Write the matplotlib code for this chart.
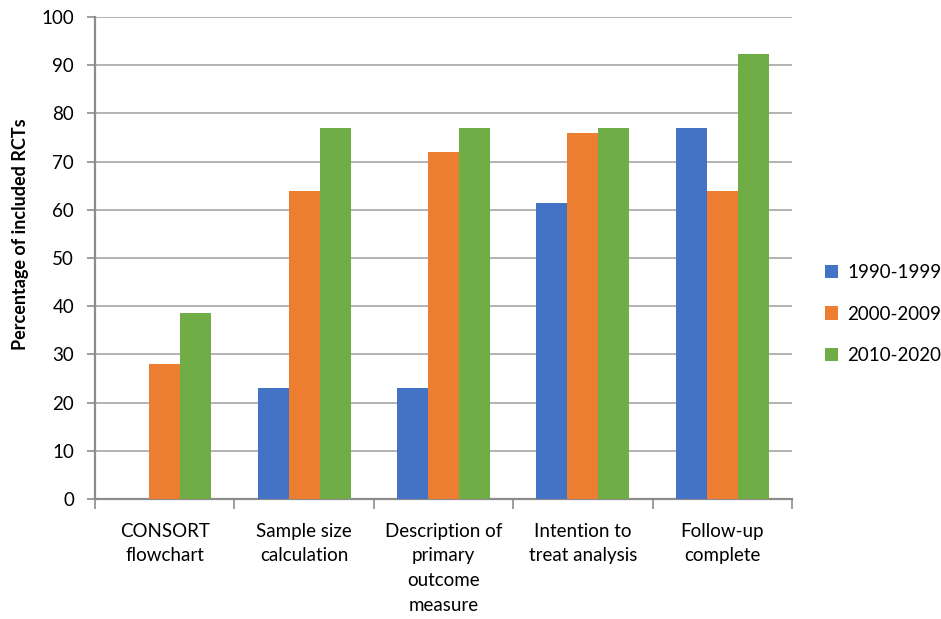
import matplotlib
matplotlib.use("Agg")
import matplotlib.pyplot as plt
import numpy as np

categories = ["CONSORT\nflowchart", "Sample size\ncalculation",
              "Description of\nprimary\noutcome\nmeasure",
              "Intention to\ntreat analysis", "Follow-up\ncomplete"]
series_names = ["1990-1999", "2000-2009", "2010-2020"]
s1990 = [0, 23.1, 23.1, 61.5, 76.9]
s2000 = [28, 64, 72, 76, 64]
s2010 = [38.5, 76.9, 76.9, 76.9, 92.3]
colors = ["#4472C4", "#ED7D31", "#70AD47"]
yticks = [0, 10, 20, 30, 40, 50, 60, 70, 80, 90, 100]

plt.rcParams['font.family'] = ['Lato', 'DejaVu Sans']

fig = plt.figure(figsize=(9.41, 6.19), dpi=100)
ax = fig.add_axes([95/941, 1-499/619, (792-95)/941, (499-17)/619])

x = np.arange(len(categories))
w = 0.222
for i, (vals, name, c) in enumerate(zip([s1990, s2000, s2010], series_names, colors)):
    ax.bar(x + (i-1)*w, vals, width=w, color=c, label=name, zorder=3)

ax.set_xlim(-0.5, len(categories)-0.5)
ax.set_ylim(0, 100)
ax.set_yticks(yticks)
ax.grid(axis='y', color='#a6a6a6', linewidth=1.2, zorder=0)

ax.set_xticks(np.arange(len(categories)+1)-0.5)
ax.set_xticklabels([])
ax.set_xticks(x, minor=True)
ax.set_xticklabels(categories, minor=True, fontsize=13.5, linespacing=1.55, va='top')
ax.tick_params(axis='x', which='minor', length=0, pad=17)
ax.tick_params(axis='x', which='major', length=7, color='#8c8c8c', width=1.2)
ax.tick_params(axis='y', length=6, color='#8c8c8c', width=1.2, labelsize=13.5, pad=9)

for s in ['top', 'right']:
    ax.spines[s].set_visible(False)
for s in ['left', 'bottom']:
    ax.spines[s].set_color('#8c8c8c')
    ax.spines[s].set_linewidth(1.6)

ax.set_ylabel("Percentage of included RCTs", fontsize=13, fontweight='bold', labelpad=10)
ax.yaxis.set_label_coords(-0.094, 0.55)

leg = fig.legend(loc='center left', bbox_to_anchor=(808/941, 1-314/619), frameon=False,
                 fontsize=13.5, handlelength=0.7, handleheight=0.7, handletextpad=0.5,
                 labelspacing=1.3)

fig.savefig("out.png", dpi=100)
